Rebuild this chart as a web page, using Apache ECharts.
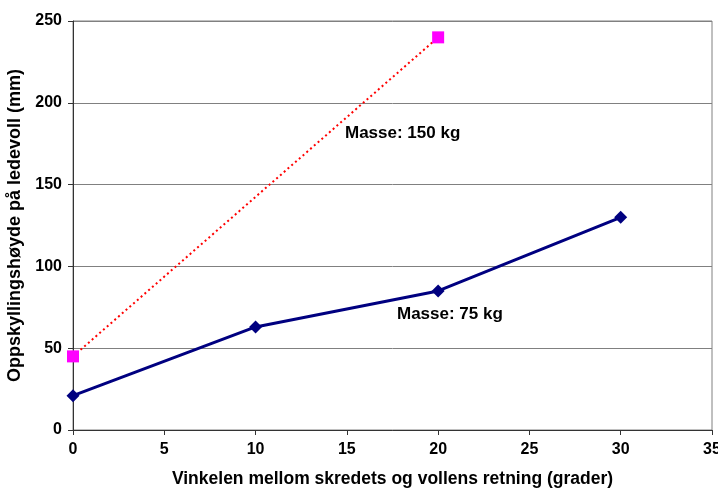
<!DOCTYPE html>
<html>
<head>
<meta charset="utf-8">
<script src="https://cdn.jsdelivr.net/npm/echarts@6/dist/echarts.min.js"></script>
<style>
  html, body { margin: 0; padding: 0; background: #fff; }
  #main { width: 718px; height: 492px; }
</style>
</head>
<body>
<div id="main"></div>
<script>
// data
var xTicks = [0, 5, 10, 15, 20, 25, 30, 35];
var yTicks = [0, 50, 100, 150, 200, 250];
var x75 = [0, 10, 20, 30];
var y75 = [21, 63, 85, 130];
var x150 = [0, 20];
var y150 = [45, 240];

function pairs(xs, ys) {
  return xs.map(function (x, i) { return [x, ys[i]]; });
}

var font = 'Liberation Sans, Arial, sans-serif';
var chart = echarts.init(document.getElementById('main'));
chart.setOption({
  backgroundColor: '#fff',
  animation: false,
  grid: {
    left: 73, right: 6, top: 21, bottom: 62,
    outerBoundsMode: 'none',
    show: true, borderColor: '#808080', borderWidth: 1
  },
  xAxis: {
    type: 'value',
    min: xTicks[0], max: xTicks[xTicks.length - 1], interval: 5,
    name: 'Vinkelen mellom skredets og vollens retning (grader)',
    nameLocation: 'middle', nameGap: 40,
    nameTextStyle: { fontFamily: font, fontWeight: 'bold', fontSize: 17.5, color: '#000' },
    axisLine: { show: true, lineStyle: { color: '#333', width: 1 } },
    axisTick: { show: true, inside: false, length: 5, lineStyle: { color: '#333' } },
    axisLabel: { fontFamily: font, fontWeight: 'bold', fontSize: 16, color: '#000', margin: 12 },
    splitLine: { show: false }
  },
  yAxis: {
    type: 'value',
    min: yTicks[0], max: yTicks[yTicks.length - 1], interval: 50,
    name: 'Oppskyllingshøyde på ledevoll (mm)',
    nameLocation: 'middle', nameGap: 44,
    nameTextStyle: { fontFamily: font, fontWeight: 'bold', fontSize: 18, color: '#000' },
    axisLine: { show: true, lineStyle: { color: '#333', width: 1 } },
    axisTick: { show: true, inside: false, length: 5, lineStyle: { color: '#333' } },
    axisLabel: { fontFamily: font, fontWeight: 'bold', fontSize: 16, color: '#000', margin: 11 },
    splitLine: { show: true, lineStyle: { color: '#808080', width: 1 } }
  },
  series: [{
    name: 'Masse: 150 kg',
    type: 'line',
    data: pairs(x150, y150),
    symbol: 'rect',
    symbolSize: 12,
    itemStyle: { color: '#ff00ff' },
    lineStyle: { color: '#ff0000', width: 2, type: [2, 3] },
    z: 3
  }, {
    name: 'Masse: 75 kg',
    type: 'line',
    data: pairs(x75, y75),
    symbol: 'diamond',
    symbolSize: 13,
    itemStyle: { color: '#000080' },
    lineStyle: { color: '#000080', width: 3 },
    z: 4
  }],
  graphic: [{
    type: 'text', left: 345, top: 125,
    style: { text: 'Masse: 150 kg', font: 'bold 17px ' + font, fill: '#000' }
  }, {
    type: 'text', left: 397, top: 306,
    style: { text: 'Masse: 75 kg', font: 'bold 17px ' + font, fill: '#000' }
  }]
});
</script>
</body>
</html>
